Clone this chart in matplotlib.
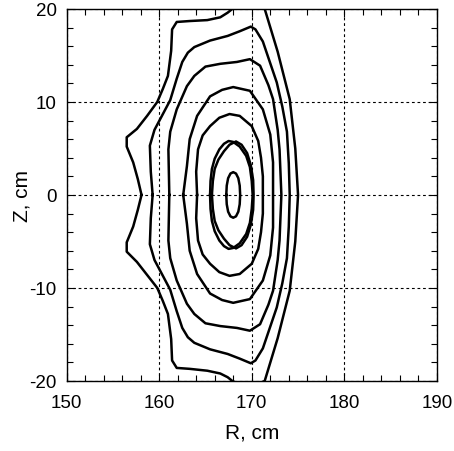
import matplotlib
matplotlib.use("Agg")
import matplotlib.pyplot as plt
from matplotlib.ticker import MultipleLocator

plt.rcParams['font.family'] = ['Liberation Sans', 'DejaVu Sans']
plt.rcParams['axes.unicode_minus'] = False

# flux surfaces, R and Z in cm
c1_R = [158.1, 157.7, 157.2, 156.5, 156.5, 157.6, 158.7, 159.8, 160.4, 160.95, 161.3, 161.4, 161.9,
        163.3, 165.2, 166.6, 167.4, 167.9, 169.6, 171.4, 172.8, 174.1, 174.7, 175.0,
        174.7, 174.1, 172.8, 171.4, 169.6, 167.9, 167.4, 166.6, 165.2, 163.3, 161.9, 161.4,
        161.3, 160.95, 160.4, 159.8, 158.7, 157.6, 156.5, 156.5, 157.2, 157.7, 158.1]
c1_Z = [0.0, 1.7, 3.5, 5.2, 6.2, 7.1, 8.5, 10.0, 11.4, 12.8, 15.5, 17.8, 18.6,
        18.7, 18.8, 19.1, 19.6, 20.0, 20.8, 20.0, 15.4, 10.3, 5.0, 0.0,
        -5.0, -10.3, -15.4, -20.0, -20.8, -20.0, -19.6, -19.2, -18.9, -18.7, -18.6, -17.8,
        -15.5, -12.8, -11.4, -10.0, -8.6, -7.2, -6.1, -5.1, -3.4, -1.6, 0.0]

c2_R = [159.3, 159.1, 159.0, 159.5, 160.3, 161.2, 161.9, 162.5, 163.1, 163.8, 165.5, 167.4, 168.7,
        169.9, 170.4, 171.2, 172.7, 173.3, 173.8, 174.0, 174.1,
        174.0, 173.8, 173.3, 172.7, 171.2, 170.4, 169.9, 168.7, 167.4, 165.5, 163.8, 163.1,
        162.5, 161.9, 161.2, 160.3, 159.5, 159.0, 159.1, 159.3]
c2_Z = [0.0, 2.5, 5.3, 7.0, 8.5, 10.2, 12.5, 14.3, 15.3, 15.9, 16.6, 17.1, 17.6,
        18.1, 17.8, 16.5, 12.1, 9.5, 6.8, 3.4, 0.0,
        -3.4, -6.8, -9.5, -12.1, -16.5, -17.8, -18.1, -17.6, -17.1, -16.6, -15.9, -15.3,
        -14.3, -12.5, -10.2, -8.5, -7.0, -5.3, -2.5, 0.0]

c3_R = [161.1, 161.0, 161.2, 161.9, 163.0, 163.8, 165.0, 166.6, 168.4, 169.8, 170.9, 171.8, 172.3,
        172.8, 173.0, 173.2,
        173.0, 172.8, 172.3, 171.8, 170.9, 169.8, 168.4, 166.6, 165.0, 163.8, 163.0, 161.9,
        161.2, 161.0, 161.1]
c3_Z = [0.0, 4.9, 6.8, 9.2, 11.7, 12.8, 13.8, 14.1, 14.3, 14.6, 13.9, 11.8, 10.3,
        7.0, 4.9, 0.0,
        -4.9, -7.0, -10.3, -11.8, -13.9, -14.6, -14.3, -14.1, -13.8, -12.8, -11.7, -9.2,
        -6.8, -4.9, 0.0]

c4_R = [162.6, 163.0, 163.3, 164.1, 165.5, 166.8, 168.0, 169.8, 171.2, 172.0, 172.3, 172.3,
        172.3, 172.0, 171.2, 169.8, 168.0, 166.8, 165.5, 164.1, 163.3, 163.0, 162.6]
c4_Z = [0.0, 3.1, 6.0, 8.5, 10.6, 11.3, 11.6, 11.2, 9.2, 6.5, 3.5, 0.0,
        -3.5, -6.5, -9.2, -11.2, -11.6, -11.3, -10.6, -8.5, -6.0, -3.1, 0.0]

c5_R = [164.1, 164.0, 164.2, 164.7, 165.5, 166.5, 167.6, 168.7, 170.0, 170.7, 171.0, 171.2, 171.2,
        171.2, 171.0, 170.7, 170.0, 168.7, 167.6, 166.5, 165.5, 164.7, 164.2, 164.0, 164.1]
c5_Z = [0.0, 2.5, 4.9, 6.4, 7.4, 8.3, 8.7, 8.5, 7.4, 5.8, 4.0, 2.0, 0.0,
        -2.0, -4.0, -5.8, -7.4, -8.5, -8.7, -8.3, -7.4, -6.4, -4.9, -2.5, 0.0]

c6a_R = [165.5, 165.55, 165.7, 166.0, 166.5, 167.0, 167.5, 168.0, 168.7, 169.4, 169.8, 170.0, 170.1,
         170.0, 169.8, 169.4, 168.7, 168.0, 167.5, 167.0, 166.5, 166.0, 165.7, 165.55, 165.5]
c6a_Z = [0.0, 1.5, 2.8, 3.9, 4.9, 5.5, 5.8, 5.7, 5.2, 4.2, 3.0, 1.5, 0.0,
         -1.5, -3.0, -4.2, -5.2, -5.7, -5.8, -5.5, -4.9, -3.9, -2.8, -1.5, 0.0]

c6b_R = [165.7, 165.8, 166.0, 166.4, 167.0, 167.6, 168.3, 168.9, 169.5, 169.9, 170.15, 170.2,
         170.15, 169.9, 169.5, 168.9, 168.3, 167.6, 167.0, 166.4, 166.0, 165.8, 165.7]
c6b_Z = [0.0, 1.5, 2.8, 3.8, 4.7, 5.4, 5.75, 5.4, 4.5, 3.2, 1.6, 0.0,
         -1.6, -3.2, -4.5, -5.4, -5.75, -5.4, -4.7, -3.8, -2.8, -1.5, 0.0]

c7_R = [167.25, 167.3, 167.45, 167.7, 168.0, 168.3, 168.55, 168.7, 168.75,
        168.7, 168.55, 168.3, 168.0, 167.7, 167.45, 167.3, 167.25]
c7_Z = [0.0, 1.0, 1.8, 2.3, 2.45, 2.3, 1.8, 1.0, 0.0,
        -1.0, -1.8, -2.3, -2.45, -2.3, -1.8, -1.0, 0.0]

curves = [(c1_R, c1_Z), (c2_R, c2_Z), (c3_R, c3_Z), (c4_R, c4_Z), (c5_R, c5_Z),
          (c6a_R, c6a_Z), (c6b_R, c6b_Z), (c7_R, c7_Z)]

fig = plt.figure(figsize=(4.54, 4.52), dpi=100)
ax = fig.add_axes([0.1465, 0.155, 0.816, 0.823])

for R, Z in curves:
    ax.plot(R, Z, color='black', lw=1.8, solid_joinstyle='round')

ax.set_xlim(150, 190)
ax.set_ylim(-20, 20)
ax.xaxis.set_major_locator(MultipleLocator(10))
ax.yaxis.set_major_locator(MultipleLocator(10))
ax.xaxis.set_minor_locator(MultipleLocator(2))
ax.yaxis.set_minor_locator(MultipleLocator(2))
ax.grid(True, which='major', color='black', linestyle=(0, (2.5, 2.5)), linewidth=0.8)
ax.tick_params(which='both', direction='in', top=True, right=True, labelsize=13.5, color='black')
ax.tick_params(which='major', length=6, width=0.8)
ax.tick_params(which='minor', length=4, width=0.8)
ax.tick_params(axis='x', which='major', pad=9.4)
ax.tick_params(axis='y', which='major', pad=7)
for s in ax.spines.values():
    s.set_linewidth(1.0)

ax.set_xlabel('R, cm', fontsize=15, labelpad=8)
ax.set_ylabel('Z, cm', fontsize=15, labelpad=-1.5)

fig.savefig('out.png', dpi=100)
